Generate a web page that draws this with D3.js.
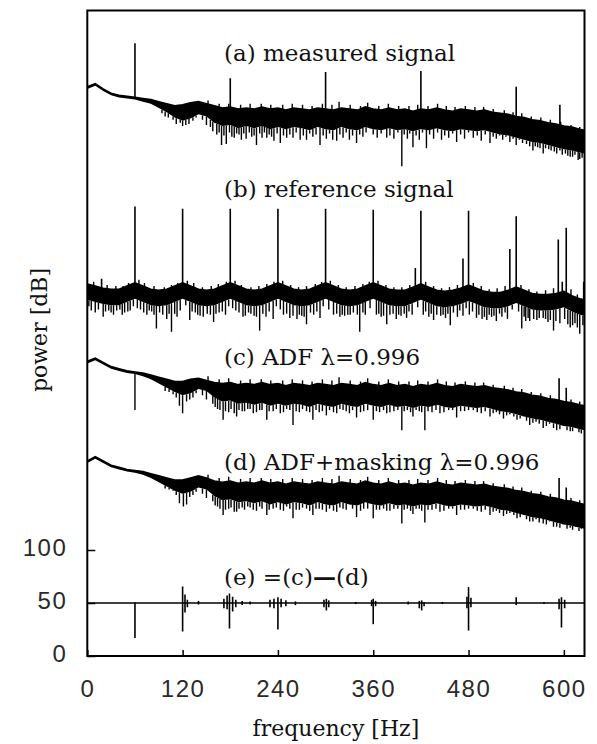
<!DOCTYPE html>
<html>
<head>
<meta charset="utf-8">
<script src="https://cdn.jsdelivr.net/npm/d3@7"></script>
<style>
  body { margin: 0; background: #fff; }
  #vis { width: 597px; height: 744px; }
</style>
</head>
<body>
<div id="vis"></div>
<script>

////////////////////////////////////////
////////////// Data ////////////////////
////////////////////////////////////////

// frequency grid (Hz) the band envelopes are read at
const freq = [0, 10, 20, 30, 40, 50, 60, 70, 80, 90, 100, 110, 120, 130, 140, 150, 160, 170, 180, 190,
    200, 210, 220, 230, 240, 250, 260, 270, 280, 290, 300, 310, 320, 330, 340, 350, 360, 370, 380, 390,
    400, 410, 420, 430, 440, 450, 460, 470, 480, 490, 500, 510, 520, 530, 540, 550, 560, 570, 580, 590,
    600, 610, 620, 626]

// (a) measured signal
const aTop = [537, 540, 535, 531, 529, 528, 527, 526, 525, 523, 521, 519, 520, 522, 523, 521, 519, 517, 518, 516,
    517, 516, 518, 516, 517, 515, 517, 516, 515, 517, 516, 515, 517, 516, 515, 518, 516, 515, 517, 515,
    516, 514, 516, 515, 517, 515, 514, 516, 515, 514, 515, 513, 512, 511, 509, 508, 506, 505, 503, 502,
    500, 499, 497, 496]
const aLow = [535, 538, 533, 529, 527, 526, 525, 523, 521, 517, 513, 508, 505, 507, 511, 509, 503, 500, 501, 498,
    500, 498, 500, 497, 499, 497, 499, 498, 496, 499, 497, 496, 499, 497, 496, 499, 497, 496, 498, 496,
    497, 495, 497, 496, 498, 496, 495, 497, 496, 495, 496, 494, 492, 491, 489, 487, 485, 484, 482, 480,
    478, 477, 475, 474]
const aDips = [[94, 512], [98, 509], [102, 508], [108, 506], [112, 502], [117, 503], [120, 500], [124, 501], [128, 502],
    [133, 505], [137, 508], [145, 506], [150, 501], [155, 499], [158, 495], [163, 492], [166, 494], [169, 482],
    [172, 491], [175, 483], [179, 494], [182, 490], [185, 489], [188, 493], [191, 492], [194, 487], [197, 493],
    [200, 488], [204, 494], [207, 490], [210, 491], [213, 482], [217, 493], [220, 489], [223, 494], [226, 489],
    [229, 492], [232, 490], [235, 486], [239, 493], [243, 484], [247, 491], [251, 489], [255, 492], [259, 489],
    [263, 494], [268, 487], [272, 491], [276, 487], [280, 493], [284, 490], [288, 492], [293, 482], [297, 491],
    [301, 488], [305, 493], [309, 487], [314, 486], [318, 492], [322, 489], [326, 494], [330, 487], [334, 491],
    [339, 484], [343, 492], [347, 490], [351, 494], [356, 501], [360, 492], [365, 489], [370, 493], [377, 489],
    [381, 491], [386, 488], [391, 494], [396, 462], [399, 492], [403, 488], [406, 493], [410, 480], [414, 491],
    [418, 487], [422, 494], [427, 479], [431, 492], [436, 488], [441, 494], [446, 487], [450, 491], [455, 489],
    [460, 493], [465, 485], [470, 492], [475, 488], [480, 494], [486, 489], [491, 491], [496, 486], [501, 492],
    [507, 484], [511, 490], [515, 488], [519, 491], [523, 487], [527, 490], [532, 485], [536, 488], [540, 482],
    [544, 487], [548, 484], [553, 483], [557, 481], [561, 477], [564, 481], [567, 480], [570, 479], [574, 474],
    [577, 479], [581, 478], [584, 477], [588, 476], [591, 474], [595, 477], [598, 473], [602, 474], [605, 472],
    [608, 471], [611, 471], [614, 473], [618, 468], [620, 469], [623, 470]]
const aUps = [[152, 524], [166, 521], [178, 521], [193, 520], [205, 521], [219, 521], [231, 520], [246, 520],
    [258, 521], [271, 520], [283, 519], [296, 521], [308, 520], [317, 523], [331, 520], [344, 519], [353, 522],
    [367, 519], [379, 521], [392, 519], [405, 519], [416, 520], [429, 519], [441, 521], [452, 519], [463, 518],
    [476, 519], [488, 518], [499, 518], [511, 516], [525, 515], [536, 513], [547, 512], [559, 509], [571, 508],
    [583, 506], [596, 504], [609, 501], [620, 499]]
const aPeaks = [[60, 578], [180, 545], [300, 551], [420, 552], [540, 537], [595, 520]]

// (b) reference signal
const bTop = [351, 349, 347, 346, 346, 349, 352, 349, 346, 345, 346, 349, 352, 349, 346, 345, 346, 349, 352, 349,
    346, 345, 346, 349, 352, 349, 346, 345, 346, 349, 352, 349, 346, 345, 346, 349, 352, 349, 346, 345,
    345, 348, 351, 348, 345, 344, 345, 347, 350, 347, 344, 343, 343, 345, 348, 345, 342, 341, 341, 342,
    344, 340, 337, 336]
const bLow = [336, 334, 332, 331, 331, 334, 337, 334, 331, 330, 331, 334, 337, 334, 331, 330, 331, 334, 337, 334,
    331, 330, 331, 334, 337, 334, 331, 330, 331, 334, 337, 334, 331, 330, 331, 334, 337, 334, 331, 330,
    330, 333, 336, 333, 330, 329, 330, 332, 335, 332, 329, 328, 328, 330, 333, 330, 327, 326, 326, 327,
    329, 325, 322, 321]
const bDips = [[2, 330], [5, 326], [10, 324], [14, 327], [20, 320], [23, 325], [27, 326], [30, 324], [33, 322],
    [37, 326], [41, 327], [44, 322], [47, 324], [51, 325], [54, 326], [58, 330], [63, 328], [67, 327], [71, 324],
    [75, 322], [78, 326], [81, 325], [84, 322], [87, 309], [91, 324], [95, 322], [100, 318], [103, 323], [106, 306],
    [110, 323], [113, 320], [117, 326], [124, 331], [129, 317], [132, 325], [136, 324], [139, 322], [142, 321],
    [146, 320], [151, 323], [155, 322], [159, 315], [162, 323], [166, 324], [170, 325], [174, 322], [178, 330],
    [183, 328], [187, 326], [191, 324], [196, 320], [199, 321], [203, 324], [206, 323], [210, 321], [213, 320],
    [217, 307], [221, 323], [225, 320], [229, 325], [234, 318], [238, 330], [243, 327], [247, 322], [251, 323],
    [255, 319], [259, 321], [264, 318], [267, 322], [270, 321], [273, 320], [276, 313], [281, 324], [285, 322],
    [289, 325], [293, 319], [297, 330], [304, 327], [310, 322], [314, 323], [318, 320], [321, 322], [324, 321],
    [328, 322], [331, 322], [335, 324], [340, 322], [343, 306], [347, 324], [350, 322], [356, 328], [364, 322],
    [367, 323], [370, 320], [373, 321], [377, 313], [381, 322], [385, 323], [389, 318], [392, 322], [395, 321],
    [399, 323], [402, 319], [405, 325], [409, 322], [416, 329], [423, 322], [426, 325], [430, 320], [433, 323],
    [436, 317], [440, 322], [445, 321], [448, 322], [451, 319], [454, 323], [457, 312], [461, 324], [466, 320],
    [469, 326], [473, 321], [477, 328], [481, 322], [485, 325], [490, 319], [493, 322], [497, 318], [500, 320],
    [503, 317], [506, 322], [509, 320], [512, 321], [515, 316], [519, 323], [522, 320], [526, 324], [529, 318],
    [535, 327], [543, 325], [547, 309], [550, 320], [552, 316], [555, 319], [557, 316], [562, 318], [566, 317],
    [569, 319], [574, 319], [577, 318], [580, 315], [583, 317], [587, 307], [590, 316], [595, 314], [601, 318],
    [605, 313], [608, 310], [611, 312], [614, 314], [617, 310], [620, 304], [624, 312]]
const bUps = [[8, 353], [25, 350], [36, 349], [45, 349], [52, 352], [65, 355], [72, 352], [84, 349], [97, 348],
    [106, 350], [114, 352], [126, 354], [134, 352], [145, 348], [156, 349], [165, 351], [175, 353], [186, 354],
    [194, 350], [206, 348], [216, 349], [226, 351], [235, 353], [246, 354], [256, 350], [266, 348], [276, 349],
    [287, 351], [295, 353], [306, 354], [316, 350], [326, 348], [337, 349], [347, 351], [355, 353], [366, 354],
    [376, 350], [386, 348], [396, 348], [406, 350], [426, 353], [436, 349], [446, 347], [456, 348], [466, 350],
    [486, 352], [496, 349], [506, 346], [516, 347], [526, 349], [546, 350], [556, 346], [566, 344], [577, 345],
    [587, 347], [609, 346], [617, 341]]
const bPeaks = [[18, 356], [60, 424], [120, 422], [180, 422], [240, 422], [300, 422], [360, 421], [413, 366],
    [420, 420], [473, 375], [480, 420], [532, 384], [540, 415], [593, 393], [598, 353], [603, 404], [625, 353]]

// (c) ADF
const cTop = [278, 281, 277, 273, 271, 269, 268, 267, 265, 263, 261, 259, 259, 261, 262, 260, 258, 257, 258, 256,
    257, 256, 258, 256, 257, 255, 257, 256, 255, 257, 256, 255, 257, 256, 255, 258, 256, 255, 257, 255,
    256, 254, 256, 255, 257, 255, 254, 256, 255, 254, 255, 253, 252, 251, 249, 248, 246, 245, 243, 242,
    240, 239, 237, 236]
const cLow = [276, 279, 275, 271, 269, 267, 266, 264, 261, 257, 253, 249, 246, 248, 252, 250, 244, 240, 241, 238,
    239, 237, 239, 236, 238, 236, 238, 237, 235, 238, 236, 235, 238, 236, 235, 238, 236, 235, 237, 235,
    236, 234, 236, 235, 237, 235, 234, 236, 235, 234, 235, 233, 231, 230, 228, 226, 224, 223, 221, 219,
    217, 216, 214, 213]
const cDips = [[60, 232], [98, 250], [103, 249], [108, 247], [112, 244], [116, 236], [120, 229], [125, 240], [129, 242],
    [133, 244], [137, 248], [145, 246], [150, 242], [158, 238], [161, 235], [164, 233], [167, 232], [171, 223],
    [174, 231], [178, 230], [181, 233], [185, 229], [188, 226], [191, 232], [195, 231], [198, 231], [202, 233],
    [205, 233], [209, 229], [213, 230], [217, 232], [220, 232], [226, 223], [229, 231], [234, 231], [238, 233],
    [243, 229], [247, 230], [251, 233], [255, 232], [259, 218], [263, 231], [267, 230], [271, 233], [276, 231],
    [280, 230], [284, 223], [288, 232], [292, 230], [296, 231], [301, 227], [305, 232], [310, 230], [314, 229],
    [318, 233], [322, 232], [326, 231], [330, 229], [334, 232], [339, 225], [344, 230], [348, 231], [353, 232],
    [360, 223], [364, 231], [368, 230], [373, 232], [377, 229], [381, 230], [386, 231], [391, 232], [396, 213],
    [399, 231], [403, 232], [407, 230], [410, 226], [414, 232], [418, 231], [421, 230], [425, 213], [429, 231],
    [434, 230], [439, 232], [444, 229], [449, 230], [455, 232], [460, 232], [465, 225], [470, 231], [475, 231],
    [480, 232], [486, 232], [491, 230], [496, 229], [501, 231], [507, 226], [511, 229], [515, 230], [519, 228],
    [524, 224], [528, 227], [532, 228], [537, 226], [541, 223], [545, 224], [549, 226], [553, 222], [557, 218],
    [561, 220], [565, 221], [569, 219], [574, 215], [578, 217], [582, 219], [587, 215], [591, 213], [595, 214],
    [599, 217], [604, 213], [608, 212], [611, 212], [615, 215], [619, 211], [622, 210]]
const cUps = [[152, 264], [166, 261], [178, 262], [193, 260], [205, 261], [219, 261], [231, 260], [246, 260],
    [258, 261], [271, 260], [283, 259], [296, 261], [308, 260], [317, 263], [331, 260], [344, 259], [353, 262],
    [367, 259], [379, 261], [392, 259], [405, 259], [416, 260], [429, 259], [441, 261], [452, 259], [463, 258],
    [476, 259], [488, 258], [499, 258], [511, 256], [525, 255], [536, 253], [547, 252], [559, 249], [571, 248],
    [583, 246], [609, 242], [620, 240]]
const cPeaks = [[594, 262], [603, 253]]

// (d) ADF + masking
const dTop = [184, 188, 184, 180, 178, 176, 175, 174, 172, 170, 168, 166, 166, 168, 170, 168, 165, 164, 165, 163,
    164, 163, 165, 163, 164, 162, 164, 163, 162, 164, 163, 162, 164, 163, 162, 165, 163, 162, 164, 162,
    163, 161, 163, 162, 164, 162, 161, 163, 162, 161, 162, 160, 159, 158, 156, 155, 153, 152, 150, 149,
    147, 146, 144, 143]
const dLow = [182, 186, 182, 178, 176, 174, 173, 171, 168, 164, 160, 156, 153, 155, 159, 157, 151, 147, 148, 145,
    146, 144, 146, 143, 145, 143, 145, 144, 142, 145, 143, 142, 145, 143, 142, 145, 143, 142, 144, 142,
    143, 141, 143, 142, 144, 142, 141, 143, 142, 141, 142, 140, 138, 137, 135, 133, 131, 130, 128, 126,
    124, 123, 121, 120]
const dDips = [[98, 158], [103, 157], [108, 156], [112, 152], [116, 144], [121, 141], [125, 143], [129, 150], [133, 152],
    [137, 155], [145, 153], [150, 149], [158, 146], [161, 142], [164, 141], [167, 139], [171, 133], [174, 138],
    [178, 139], [181, 140], [185, 136], [188, 136], [191, 139], [195, 140], [198, 138], [202, 141], [205, 140],
    [209, 138], [213, 137], [217, 141], [220, 139], [226, 133], [229, 138], [234, 139], [238, 140], [243, 138],
    [247, 137], [251, 141], [255, 139], [259, 130], [263, 138], [267, 138], [271, 140], [276, 139], [280, 137],
    [284, 133], [288, 139], [292, 139], [296, 138], [301, 136], [305, 139], [310, 137], [314, 136], [318, 140],
    [322, 139], [326, 138], [334, 139], [339, 131], [344, 137], [348, 139], [353, 139], [360, 130], [364, 138],
    [368, 138], [373, 139], [377, 137], [381, 137], [386, 139], [391, 139], [396, 125], [399, 138], [403, 139],
    [407, 137], [410, 134], [414, 139], [418, 139], [421, 137], [425, 126], [429, 138], [434, 138], [439, 139],
    [444, 136], [449, 137], [455, 139], [460, 139], [465, 133], [470, 138], [475, 138], [480, 139], [486, 139],
    [491, 137], [496, 136], [501, 138], [507, 133], [511, 136], [515, 137], [519, 135], [524, 132], [528, 134],
    [532, 135], [537, 133], [541, 130], [545, 131], [549, 133], [553, 129], [557, 127], [561, 127], [565, 129],
    [569, 126], [574, 125], [578, 124], [582, 127], [587, 122], [591, 122], [595, 121], [599, 125], [604, 120],
    [608, 121], [611, 119], [615, 123], [619, 118], [622, 120]]
const dUps = [[152, 171], [166, 168], [178, 169], [193, 167], [205, 168], [219, 168], [231, 167], [246, 167],
    [258, 168], [271, 167], [283, 166], [296, 168], [308, 167], [317, 170], [331, 167], [344, 166], [353, 169],
    [367, 166], [379, 168], [392, 166], [405, 166], [416, 167], [429, 166], [441, 168], [452, 166], [463, 165],
    [476, 166], [488, 165], [499, 165], [511, 163], [525, 162], [536, 160], [547, 159], [559, 156], [571, 155],
    [583, 153], [609, 149], [620, 147]]
const dPeaks = [[594, 168], [603, 159]]

// (e) = (c) - (d): baseline plus spikes [freq, high, low]
const eBase = 50
const eSpikes = [[60, 50.5, 17], [120, 65.5, 23], [123, 58, 41], [126, 53, 46], [140, 52, 48.5], [172, 54, 45],
    [176, 57, 44], [179, 59, 26], [183, 56, 42], [187, 53, 46], [195, 52, 48], [205, 51.5, 48.5], [230, 53, 46],
    [235, 54, 45], [240, 55.5, 25], [244, 54, 46], [250, 52.5, 47], [262, 51.5, 48], [298, 53, 46], [301, 54, 43],
    [304, 52.5, 46], [338, 51, 49], [358, 53, 47], [360, 54, 30], [363, 52, 47], [404, 51.5, 48.5], [418, 52, 45],
    [421, 52.5, 43], [424, 51, 47], [447, 51, 49], [478, 56, 45], [480, 65, 24], [483, 55, 46], [540, 55.5, 48],
    [575, 51, 49], [594, 54, 44], [597, 55.5, 27], [601, 53, 45]]

// labels
const traceLabels = ['(a) measured signal', '(b) reference signal', '(c) ADF \u03bb=0.996', '(d) ADF+masking \u03bb=0.996']
const xTicks = [0, 120, 240, 360, 480, 600]
const yTicks = [0, 50, 100]

////////////////////////////////////////
////////////// SVG Setup ///////////////
////////////////////////////////////////

const options = {
    width: 597,
    height: 744,
    margin: { top: 10.5, right: 12.5, bottom: 88, left: 87.3 }
}
const width = options.width - options.margin.left - options.margin.right
const height = options.height - options.margin.top - options.margin.bottom

const svg = d3.select('#vis').append('svg')
    .attr('width', options.width)
    .attr('height', options.height)
    .append('g')
    .attr('transform', `translate(${options.margin.left}, ${options.margin.top})`)

svg.append('clipPath').attr('id', 'plot-clip')
    .append('rect').attr('width', width).attr('height', height)

////////////////////////////////////////
////////////// Scales //////////////////
////////////////////////////////////////

const x = d3.scaleLinear().domain([0, 626]).range([0, width])
const y = d3.scaleLinear().domain([0, 609]).range([height, 0])

const plot = svg.append('g').attr('clip-path', 'url(#plot-clip)')

////////////////////////////////////////
////////////// Traces //////////////////
////////////////////////////////////////

// vertical strokes at f, from an envelope value to the listed value
function spikes(list, from, width) {
    plot.append('g').selectAll('line')
        .data(list)
        .join('line')
        .attr('x1', d => x(d[0])).attr('x2', d => x(d[0]))
        .attr('y1', d => y(from(d[0]))).attr('y2', d => y(d[1]))
        .attr('stroke', '#000')
        .attr('stroke-width', width)
}

function drawBand(top, low, dips, ups, peaks) {
    const topAt = d3.scaleLinear().domain(freq).range(top)
    const lowAt = d3.scaleLinear().domain(freq).range(low)

    const area = d3.area()
        .x((d, i) => x(freq[i]))
        .y0((d, i) => y(low[i]))
        .y1(d => y(d))

    plot.append('path')
        .datum(top)
        .attr('d', area)
        .attr('fill', '#000')

    plot.append('path')
        .datum(top)
        .attr('d', d3.line().x((d, i) => x(freq[i])).y(d => y(d)))
        .attr('fill', 'none')
        .attr('stroke', '#000')
        .attr('stroke-width', 1.6)

    spikes(dips, lowAt, 1.4)
    spikes(ups, topAt, 1.4)
    spikes(peaks, topAt, 1.6)
}

drawBand(aTop, aLow, aDips, aUps, aPeaks)
drawBand(bTop, bLow, bDips, bUps, bPeaks)
drawBand(cTop, cLow, cDips, cUps, cPeaks)
drawBand(dTop, dLow, dDips, dUps, dPeaks)

// (e) difference trace
plot.append('line')
    .attr('x1', x(0)).attr('x2', x(626))
    .attr('y1', y(eBase)).attr('y2', y(eBase))
    .attr('stroke', '#000')
    .attr('stroke-width', 1.5)

plot.append('g').selectAll('line')
    .data(eSpikes)
    .join('line')
    .attr('x1', d => x(d[0])).attr('x2', d => x(d[0]))
    .attr('y1', d => y(d[1])).attr('y2', d => y(d[2]))
    .attr('stroke', '#000')
    .attr('stroke-width', 1.6)

////////////////////////////////////////
////////////// Axes ////////////////////
////////////////////////////////////////

const xAxis = svg.append('g')
    .attr('transform', `translate(0, ${height})`)
    .call(d3.axisBottom(x).tickValues(xTicks).tickSize(-6).tickPadding(24))
const yAxis = svg.append('g')
    .call(d3.axisLeft(y).tickValues(yTicks).tickSize(-8).tickPadding(20))

for (const ax of [xAxis, yAxis]) {
    ax.select('.domain').remove()
    ax.selectAll('.tick line').attr('stroke', '#000').attr('stroke-width', 1.5)
    ax.selectAll('.tick text')
        .attr('font-family', '"Liberation Sans", Arial, sans-serif')
        .attr('font-size', 24)
        .attr('letter-spacing', 1.5)
        .attr('fill', '#2a2a2a')
}
yAxis.selectAll('.tick text').attr('dy', '0.24em')

svg.append('rect')
    .attr('width', width)
    .attr('height', height)
    .attr('fill', 'none')
    .attr('stroke', '#000')
    .attr('stroke-width', 2)

////////////////////////////////////////
////////////// Labels //////////////////
////////////////////////////////////////

const serif = '"DejaVu Serif", serif'
const labelY = [61, 197, 365, 470]

svg.selectAll('.trace-label')
    .data(traceLabels)
    .join('text')
    .attr('class', 'trace-label')
    .attr('x', 224 - options.margin.left)
    .attr('y', (d, i) => labelY[i] - options.margin.top)
    .attr('font-family', serif)
    .attr('font-size', 23)
    .attr('fill', '#111')
    .text(d => d)

const eLabel = svg.append('text')
    .attr('x', 224 - options.margin.left)
    .attr('y', 585 - options.margin.top)
    .attr('font-family', serif)
    .attr('font-size', 23)
    .attr('fill', '#111')
eLabel.append('tspan').text('(e) =(c)')
eLabel.append('tspan').attr('font-weight', 'bold').text('\u2014')
eLabel.append('tspan').text('(d)')

svg.append('text')
    .attr('x', width / 2)
    .attr('y', 736 - options.margin.top)
    .attr('text-anchor', 'middle')
    .attr('font-family', serif)
    .attr('font-size', 22)
    .attr('fill', '#111')
    .text('frequency [Hz]')

svg.append('text')
    .attr('transform', `translate(${47 - options.margin.left}, ${330 - options.margin.top}) rotate(-90)`)
    .attr('text-anchor', 'middle')
    .attr('font-family', serif)
    .attr('font-size', 22)
    .attr('fill', '#111')
    .text('power [dB]')

</script>
</body>
</html>
